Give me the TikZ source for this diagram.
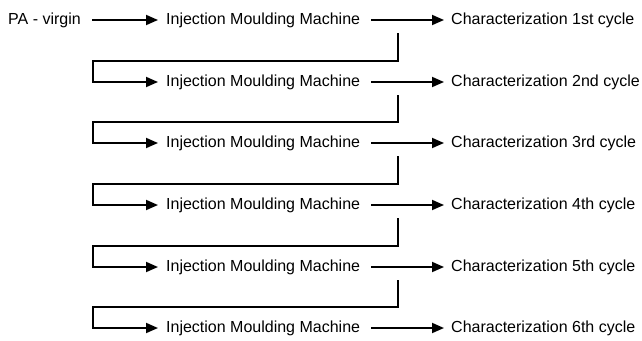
\documentclass[tikz,border=0pt]{standalone}
\usepackage{fontspec}
\setmainfont{Liberation Sans}
\usetikzlibrary{arrows.meta}

\begin{document}
\begin{tikzpicture}[x=1pt,y=-1pt,
                    every node/.style={anchor=west,inner sep=0pt,text height=12pt,text depth=3pt,
                                       font=\fontsize{16}{19}\selectfont},
                    flow/.style={line width=1.8pt,-{Triangle[length=12pt,width=10pt]}}]
  \useasboundingbox (0,0) rectangle (642,340);
  % six passes through the moulding machine, each one characterized
  \node (src) at (8,20) {PA - virgin};
  \foreach \r/\y/\cyc in {1/20/1st,2/82/2nd,3/143/3rd,4/205/4th,5/267/5th,6/328/6th}{
    \node (m\r) at (166,\y) {Injection Moulding Machine};
    \node (c\r) at (451,\y) {Characterization \cyc\ cycle};
    \draw[flow] ([xshift=11pt]m\r.east) -- ([xshift=-7pt]c\r.west);
  }
  \draw[flow] ([xshift=11pt]src.east) -- ([xshift=-8pt]m1.west);
  % return loops back to the machine
  \foreach \r/\n/\y/\yn in {1/2/20/82,2/3/82/143,3/4/143/205,4/5/205/267,5/6/267/328}{
    \coordinate (t\r) at (398,{\y+13});
    \coordinate (b\r) at (93,{\yn-21});
    \draw[flow,shorten >=8pt] (t\r) |- (b\r) |- (m\n.west);
  }
\end{tikzpicture}
\end{document}
